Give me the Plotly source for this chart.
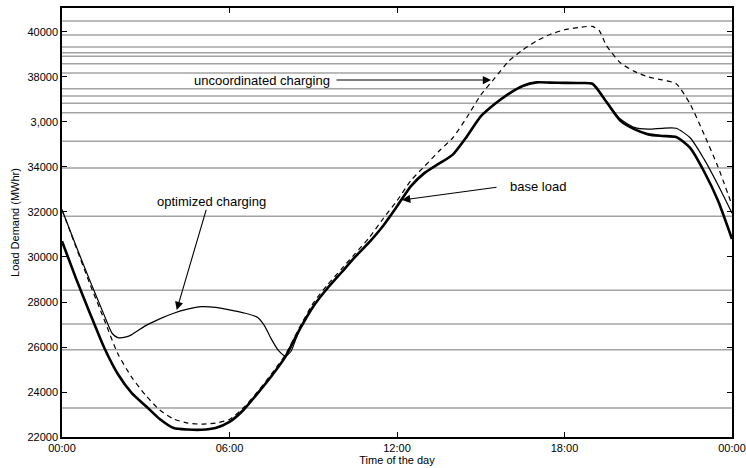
import plotly.graph_objects as go

# ---- data ----
base_hours = [0, 0.5, 1, 1.5, 2, 2.5, 3, 3.5, 4, 4.5, 5, 5.5, 6, 6.5, 7, 7.5, 8, 8.5, 9, 9.5,
              10, 10.5, 11, 11.5, 12, 12.5, 13, 13.5, 14, 14.5, 15, 15.5, 16, 16.5, 17, 17.5,
              18, 18.5, 19, 19.5, 20, 20.5, 21, 21.5, 22, 22.5, 23, 23.5, 24]
base_load = [30700, 29050, 27500, 26000, 24800, 23950, 23380, 22800, 22400, 22330, 22320, 22400,
             22670, 23200, 23930, 24700, 25560, 26750, 27800, 28600, 29300, 30000, 30650, 31380,
             32250, 33150, 33750, 34150, 34550, 35350, 36250, 36800, 37250, 37600, 37760, 37750,
             37740, 37730, 37700, 36900, 36060, 35680, 35450, 35380, 35330, 34850, 33800, 32500, 30800]

unc_hours = [0, 0.5, 1, 1.5, 2, 2.5, 3, 3.5, 4, 4.5, 5, 5.5, 6, 6.5, 7, 7.5, 8, 8.5, 9, 9.5,
             10, 10.5, 11, 11.5, 12, 12.5, 13, 13.5, 14, 14.5, 15, 15.5, 16, 16.5, 17, 17.5,
             18, 18.5, 19, 19.25, 19.5, 20, 20.5, 21, 21.5, 22, 22.5, 23, 23.5, 24]
uncoordinated = [32100, 30450, 28800, 27250, 25700, 24650, 23850, 23200, 22800, 22620, 22570, 22620,
                 22780, 23300, 24000, 24800, 25650, 26850, 27950, 28750, 29450, 30150, 30850, 31700,
                 32500, 33400, 34050, 34700, 35300, 36200, 37200, 37950, 38700, 39200, 39600, 39900,
                 40100, 40200, 40250, 40050, 39400, 38630, 38250, 38000, 37870, 37700, 36800, 35450,
                 34000, 32300]

opt_hours = [0, 0.5, 1, 1.5, 1.8, 2, 2.3, 2.5, 3, 3.5, 4, 4.5, 5, 5.5, 6, 6.5, 7, 7.25, 7.5, 7.75,
             8, 8.2, 8.5, 9, 9.5, 10, 10.5, 11, 11.5, 12, 12.5, 13, 13.5, 14, 14.5, 15, 15.5, 16,
             16.5, 17, 17.5, 18, 18.5, 19, 19.5, 20, 20.5, 21, 21.5, 22, 22.5, 23, 23.5, 24]
optimized = [32100, 30500, 28950, 27450, 26600, 26420, 26450, 26550, 26950, 27250, 27500, 27680,
             27790, 27760, 27650, 27520, 27320, 26950, 26350, 25850, 25600, 25800, 26750, 27800,
             28600, 29300, 30000, 30650, 31380, 32250, 33150, 33750, 34150, 34550, 35350, 36250,
             36800, 37250, 37600, 37760, 37750, 37740, 37730, 37700, 36920, 36130, 35760, 35680,
             35720, 35720, 35300, 34350, 33200, 31950]

grid_values = [40489, 39867, 39333, 39081, 38919, 38593, 38178, 37481, 37156, 36830, 36415,
               35141, 33956, 31807, 28519, 27022, 25881, 23289]

x_tickvals = [0, 6, 12, 18, 24]
x_ticktext = ["00:00", "06:00", "12:00", "18:00", "00:00"]
y_tickvals = [22000, 24000, 26000, 28000, 30000, 32000, 34000, 36000, 38000, 40000]
y_ticktext = ["22000", "24000", "26000", "28000", "30000", "32000", "34000", "3,000", "38000", "40000"]

FONT = "Liberation Sans, Arial, Helvetica, sans-serif"

fig = go.Figure()
fig.add_trace(go.Scatter(x=unc_hours, y=uncoordinated, mode="lines",
                         line=dict(color="black", width=1.2, dash="5px,4px", shape="spline", smoothing=0.6),
                         showlegend=False))
fig.add_trace(go.Scatter(x=opt_hours, y=optimized, mode="lines",
                         line=dict(color="black", width=1.2, shape="spline", smoothing=0.6),
                         showlegend=False))
fig.add_trace(go.Scatter(x=base_hours, y=base_load, mode="lines",
                         line=dict(color="black", width=2.6, shape="spline", smoothing=0.6),
                         showlegend=False))

for gv in grid_values:
    fig.add_shape(type="line", xref="paper", yref="y", x0=0, x1=1, y0=gv, y1=gv,
                  line=dict(color="#a3a3a3", width=1.5), layer="below")

arrow = dict(showarrow=True, arrowhead=2, arrowsize=1.5, arrowwidth=1.1, arrowcolor="black",
             axref="x", ayref="y", xref="x", yref="y", text="")
fig.add_annotation(x=15.37, y=37866, ax=9.78, ay=37866, **arrow)
fig.add_annotation(x=12.18, y=32533, ax=15.62, ay=33111, **arrow)
fig.add_annotation(x=4.11, y=27644, ax=5.18, ay=32164, **arrow)

txt = dict(showarrow=False, xref="x", yref="y", font=dict(family=FONT, size=13, color="black"))
fig.add_annotation(x=7.15, y=37822, text="uncoordinated charging", **txt)
fig.add_annotation(x=17.05, y=33155, text="base load", **txt)
fig.add_annotation(x=5.34, y=32457, text="optimized charging", **txt)

axis_common = dict(showline=True, linecolor="black", linewidth=1.5, mirror="ticks",
                   ticks="inside", ticklen=5, tickcolor="black", tickwidth=1,
                   showgrid=False, zeroline=False,
                   tickfont=dict(family=FONT, size=11, color="black"))

fig.update_xaxes(range=[0, 24], tickvals=x_tickvals, ticktext=x_ticktext,
                 title=dict(text="Time of the day", font=dict(family=FONT, size=11, color="black"), standoff=1),
                 **axis_common)
fig.update_yaxes(range=[22000, 41066], tickvals=y_tickvals, ticktext=y_ticktext,
                 title=dict(text="Load Demand (MWhr)", font=dict(family=FONT, size=11, color="black"), standoff=6),
                 **axis_common)

fig.update_layout(width=746, height=468, margin=dict(l=62, r=14, t=8, b=31, autoexpand=False),
                  plot_bgcolor="white", paper_bgcolor="white",
                  font=dict(family=FONT, size=11, color="black"))

fig.write_html("out.html")
